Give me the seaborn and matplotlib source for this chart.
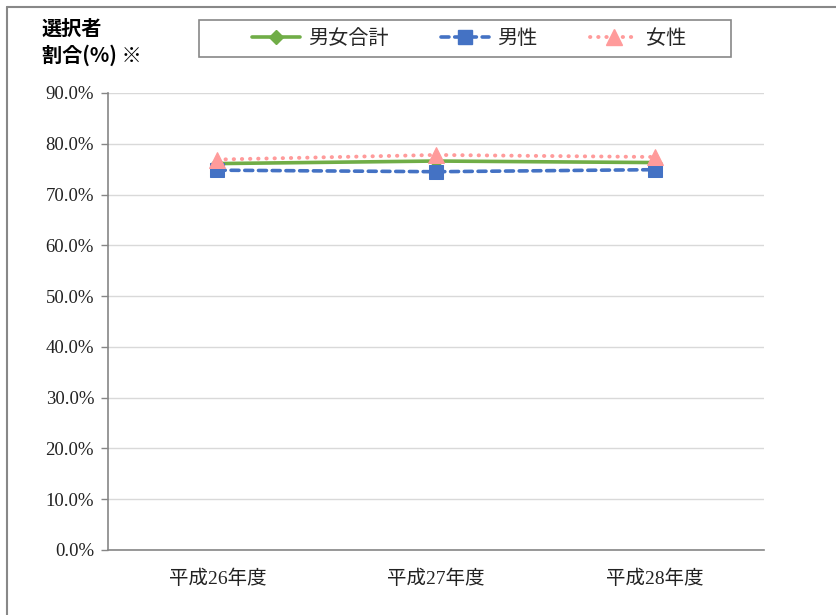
import matplotlib
matplotlib.use("Agg")
import matplotlib.pyplot as plt
from matplotlib.lines import Line2D
from matplotlib.patches import Rectangle
from matplotlib.ticker import FixedLocator
import seaborn as sns
import pandas as pd

categories = ["平成26年度", "平成27年度", "平成28年度"]
total = [76.1, 76.6, 76.3]
male = [74.8, 74.5, 74.9]
female = [76.9, 77.8, 77.4]
series_names = ["男女合計", "男性", "女性"]
yticks = [0, 10, 20, 30, 40, 50, 60, 70, 80, 90]

sns.set_theme(style="white")
plt.rcParams['font.family'] = ['Noto Sans CJK JP', 'DejaVu Sans']
serif = ['Liberation Serif', 'Noto Sans CJK JP']

W, H = 836, 615
fig = plt.figure(figsize=(W / 100, H / 100), dpi=100)
ax = fig.add_axes([108 / W, 1 - 550 / H, (764 - 108) / W, (550 - 93) / H])

df = pd.DataFrame({
    "x": list(range(len(categories))) * 3,
    "v": total + male + female,
    "s": [series_names[0]] * 3 + [series_names[1]] * 3 + [series_names[2]] * 3,
})

styles = {
    "男女合計": dict(color="#70AD47", marker="D", markersize=7, linestyle="-", lw=2.6),
    "男性": dict(color="#4472C4", marker="s", markersize=10, linestyle=(0, (2.2, 1.6)), lw=2.6),
    "女性": dict(color="#FF9B9B", marker="^", markersize=11, linestyle=(0, (0.1, 2.0)), lw=2.8),
}

handles = []
for name in series_names:
    st = styles[name]
    sub = df[df["s"] == name]
    sns.lineplot(data=sub, x="x", y="v", ax=ax, color=st["color"], marker=st["marker"],
                 markersize=st["markersize"], markeredgecolor=st["color"],
                 linewidth=st["lw"], linestyle=st["linestyle"], legend=False,
                 dash_capstyle="round", solid_capstyle="round", zorder=3)
    handles.append(Line2D([], [], color=st["color"], marker=st["marker"],
                          markersize=st["markersize"], markeredgecolor=st["color"],
                          linewidth=st["lw"], linestyle=st["linestyle"],
                          dash_capstyle="round", solid_capstyle="round"))

ax.set_xlim(-0.5, 2.5)
ax.set_ylim(0, 90)
ax.set_xlabel("")
ax.set_ylabel("")
ax.set_yticks(yticks)
ax.set_yticklabels([f"{v:.1f}%" for v in yticks], family=serif, fontsize=13.5, color="#222222")
ax.set_xticks(range(len(categories)))
ax.set_xticklabels(categories, family=serif, fontsize=14, color="#222222")
ax.xaxis.set_minor_locator(FixedLocator([-0.5, 0.5, 1.5, 2.5]))
ax.tick_params(axis="x", which="major", length=0, pad=14)
ax.tick_params(axis="x", which="minor", length=5, width=1, color="#868686", direction="out")
ax.tick_params(axis="y", which="major", length=5, width=1, color="#868686", direction="out", left=True, pad=5)
ax.yaxis.grid(True, color="#D9D9D9", linewidth=1)
ax.set_axisbelow(True)
for sp in ["top", "right"]:
    ax.spines[sp].set_visible(False)
for sp in ["left", "bottom"]:
    ax.spines[sp].set_color("#868686")
    ax.spines[sp].set_linewidth(1.2)

# legend frame drawn separately to match the wide box
fig.add_artist(Rectangle((199 / W, 1 - 57 / H), (731 - 199) / W, (57 - 20) / H,
                         transform=fig.transFigure, fill=False, edgecolor="#888888", linewidth=1.2))
leg = fig.legend(handles, series_names, loc="center",
                 bbox_to_anchor=(469 / W, 1 - 38.5 / H), ncol=3, fontsize=14.5,
                 handlelength=2.4, columnspacing=2.6, handletextpad=0.4,
                 frameon=False, borderaxespad=0)

fig.text(42 / W, 1 - 18 / H, "選択者\n割合(%) ※", ha="left", va="top",
         fontsize=14.5, fontweight="bold", linespacing=1.3, color="#000000")

# outer chart border (cropped frame)
fig.add_artist(Line2D([7 / W, 1.0], [1 - 7 / H, 1 - 7 / H], transform=fig.transFigure,
                      color="#888888", linewidth=1.5))
fig.add_artist(Line2D([7 / W, 7 / W], [0.0, 1 - 7 / H], transform=fig.transFigure,
                      color="#888888", linewidth=1.5))

fig.savefig("out.png", dpi=100)
